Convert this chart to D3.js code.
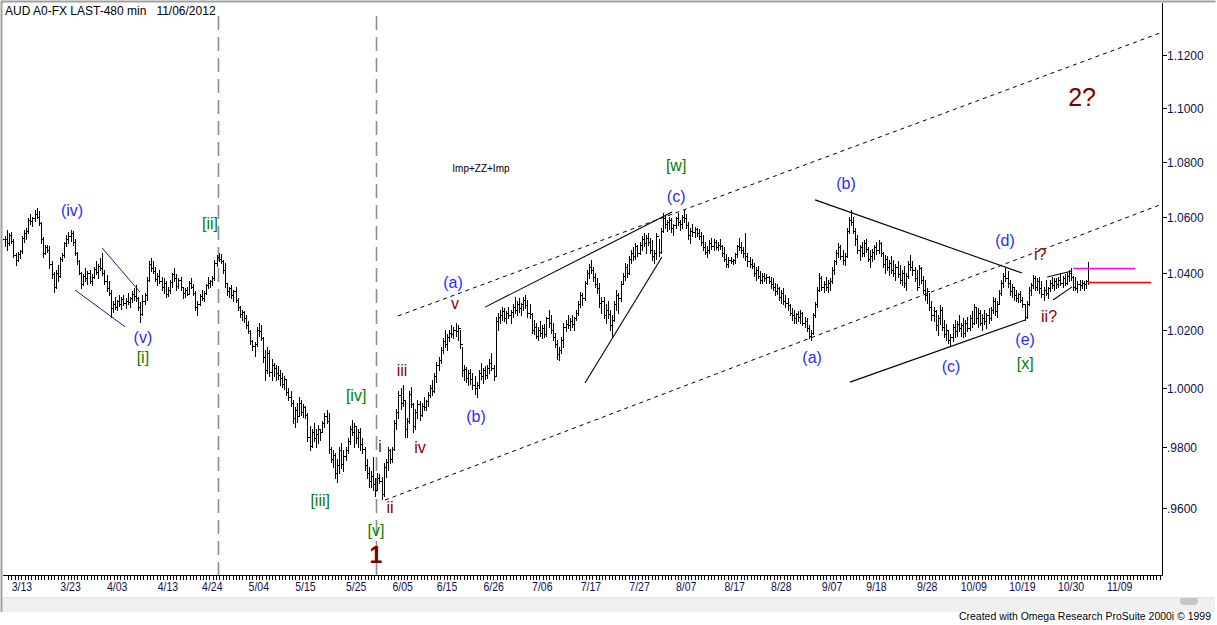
<!DOCTYPE html>
<html><head><meta charset="utf-8">
<script src="https://cdn.jsdelivr.net/npm/d3@7"></script>
<style>html,body{margin:0;padding:0;background:#fff;overflow:hidden}svg{display:block}</style>
</head><body>
<svg id="c" width="1217" height="625"></svg>
<script>
// ---- DATA (prices in 1/10000) ----
const highs = [
10530,10552,10540,10545,10520,10470,10475,10482,10530,10552,
10560,10595,10610,10600,10625,10631,10620,10580,10527,10498,
10500,10495,10440,10403,10410,10427,10455,10470,10510,10534,
10545,10552,10548,10520,10475,10445,10403,10395,10417,10405,
10410,10395,10420,10440,10430,10452,10470,10410,10392,10370,
10339,10300,10314,10305,10320,10315,10321,10310,10330,10315,
10335,10345,10357,10315,10297,10321,10330,10385,10440,10452,
10440,10420,10400,10410,10385,10381,10370,10350,10375,10400,
10417,10395,10380,10385,10350,10345,10350,10370,10381,10360,
10335,10300,10325,10339,10335,10360,10385,10375,10390,10445,
10462,10470,10465,10445,10434,10365,10350,10357,10340,10350,
10310,10283,10270,10266,10250,10230,10200,10165,10158,10210,
10223,10215,10175,10130,10141,10130,10100,10084,10080,10075,
10061,10050,10040,10027,10000,9990,9959,9935,9950,9969,
9960,9945,9940,9915,9870,9860,9882,9860,9875,9858,
9890,9915,9925,9915,9801,9790,9781,9760,9800,9815,
9790,9801,9830,9870,9892,9880,9868,9860,9865,9830,
9801,9760,9735,9720,9768,9700,9715,9712,9702,9748,
9760,9801,9795,9801,9892,9930,9990,9999,10010,9960,
9900,9990,10003,9949,9930,9959,9955,9950,9969,9960,
9985,10010,10027,10050,10090,10106,10141,10170,10199,10185,
10200,10215,10210,10225,10215,10199,10141,10080,10072,10060,
10065,10051,10040,10020,10060,10084,10070,10075,10080,10100,
10120,10080,10245,10260,10269,10280,10275,10265,10280,10270,
10290,10314,10300,10310,10295,10315,10321,10305,10290,10260,
10234,10225,10210,10230,10215,10220,10245,10269,10250,10223,
10190,10165,10140,10175,10223,10235,10252,10240,10250,10245,
10270,10300,10332,10330,10370,10410,10430,10445,10420,10399,
10380,10364,10315,10314,10290,10300,10269,10250,10300,10339,
10330,10370,10400,10434,10430,10460,10480,10490,10505,10500,
10510,10530,10541,10535,10540,10525,10516,10480,10540,10520,
10560,10613,10605,10590,10599,10595,10575,10600,10612,10590,
10605,10624,10610,10581,10560,10575,10563,10560,10555,10545,
10534,10510,10495,10515,10523,10520,10515,10510,10520,10500,
10491,10465,10455,10456,10450,10470,10500,10523,10510,10490,
10541,10470,10456,10450,10434,10420,10425,10405,10400,10399,
10395,10390,10385,10380,10365,10360,10350,10340,10345,10320,
10310,10290,10275,10270,10260,10265,10269,10262,10245,10240,
10215,10200,10260,10297,10350,10399,10390,10370,10385,10375,
10380,10420,10445,10480,10505,10500,10480,10470,10560,10600,
10624,10600,10560,10534,10500,10510,10516,10520,10490,10480,
10485,10498,10510,10516,10510,10475,10463,10460,10445,10460,
10445,10430,10440,10427,10410,10425,10400,10440,10463,10440,
10420,10410,10427,10420,10390,10374,10345,10330,10300,10280,
10269,10250,10287,10280,10234,10220,10199,10185,10220,10234,
10230,10252,10225,10240,10234,10245,10250,10265,10290,10280,
10275,10270,10255,10269,10260,10275,10280,10314,10310,10300,
10340,10374,10400,10417,10405,10374,10360,10345,10339,10330,
10335,10315,10290,10300,10350,10365,10392,10388,10380,10385,
10370,10350,10374,10350,10375,10385,10380,10380,10385,10399,
10390,10395,10400,10410,10417,10390,10385,10370,10374,10374,
10370,10375,10438];
const lows = [
10495,10481,10500,10505,10455,10427,10440,10452,10470,10510,
10520,10540,10575,10568,10585,10595,10570,10505,10456,10465,
10474,10417,10380,10332,10345,10370,10385,10440,10455,10495,
10505,10512,10500,10463,10430,10395,10346,10355,10370,10360,
10365,10357,10380,10395,10381,10410,10392,10360,10335,10321,
10245,10262,10272,10270,10282,10273,10285,10275,10290,10280,
10297,10305,10300,10268,10227,10250,10290,10304,10370,10405,
10399,10370,10357,10365,10340,10330,10314,10318,10330,10350,
10370,10339,10345,10340,10311,10315,10320,10325,10345,10320,
10270,10252,10285,10304,10300,10325,10345,10350,10355,10374,
10425,10440,10434,10400,10350,10320,10314,10310,10300,10297,
10270,10245,10235,10227,10205,10189,10150,10130,10108,10145,
10180,10165,10090,10027,10050,10040,10027,10040,10027,10030,
10010,10003,9995,9975,9959,9940,9880,9868,9885,9905,
9910,9902,9900,9820,9791,9800,9820,9801,9815,9825,
9850,9868,9880,9781,9750,9735,9700,9685,9715,9730,
9720,9758,9780,9810,9840,9801,9815,9800,9791,9780,
9725,9700,9668,9670,9660,9638,9660,9682,9630,9640,
9702,9725,9748,9750,9790,9860,9900,9930,9940,9835,
9835,9880,9935,9851,9860,9900,9892,9905,9925,9925,
9940,9969,9975,9985,10020,10060,10087,10120,10140,10130,
10160,10175,10170,10180,10165,10138,10040,10027,10020,10010,
10015,9995,9980,9969,10000,10030,10017,10030,10035,10050,
10060,10027,10040,10200,10225,10235,10230,10223,10240,10225,
10245,10260,10250,10262,10250,10270,10275,10245,10240,10189,
10185,10170,10165,10180,10170,10175,10180,10210,10190,10165,
10140,10100,10096,10120,10141,10195,10205,10199,10210,10200,
10234,10250,10280,10285,10305,10360,10380,10400,10370,10350,
10330,10280,10260,10240,10223,10240,10200,10175,10230,10270,
10259,10300,10364,10375,10385,10395,10434,10445,10450,10460,
10465,10480,10495,10470,10500,10470,10445,10434,10450,10460,
10470,10545,10560,10550,10555,10545,10534,10560,10570,10552,
10560,10580,10560,10520,10505,10530,10527,10530,10520,10500,
10480,10465,10456,10470,10485,10481,10485,10481,10485,10460,
10440,10420,10422,10434,10430,10435,10455,10480,10470,10455,
10445,10425,10420,10415,10390,10375,10380,10364,10365,10370,
10364,10365,10345,10340,10321,10325,10305,10295,10290,10280,
10270,10250,10235,10223,10225,10230,10225,10215,10210,10195,
10170,10165,10185,10245,10280,10335,10340,10332,10340,10332,
10340,10364,10395,10430,10455,10450,10430,10427,10455,10540,
10570,10540,10500,10470,10445,10460,10460,10475,10440,10420,
10440,10450,10465,10470,10460,10420,10400,10410,10392,10400,
10390,10374,10385,10365,10357,10350,10340,10380,10410,10392,
10370,10339,10355,10365,10330,10304,10295,10270,10234,10230,
10200,10182,10220,10199,10175,10165,10155,10148,10160,10175,
10180,10195,10180,10175,10180,10195,10200,10210,10220,10225,
10210,10215,10199,10220,10205,10225,10235,10260,10250,10245,
10290,10320,10350,10370,10350,10320,10314,10305,10300,10297,
10297,10280,10234,10240,10285,10320,10345,10340,10339,10330,
10315,10304,10320,10310,10335,10345,10339,10345,10350,10355,
10350,10355,10360,10370,10375,10340,10339,10332,10340,10345,
10339,10345,10360];
const closes = [
10520,10505,10535,10512,10462,10445,10468,10476,10522,10540,
10548,10590,10585,10596,10610,10600,10578,10520,10470,10490,
10482,10430,10395,10350,10400,10388,10450,10462,10505,10520,
10530,10540,10510,10470,10440,10400,10360,10390,10380,10398,
10372,10385,10412,10402,10425,10418,10400,10372,10345,10330,
10275,10290,10280,10300,10290,10308,10295,10302,10296,10310,
10325,10318,10310,10280,10255,10300,10322,10375,10430,10415,
10405,10378,10390,10372,10350,10365,10325,10340,10368,10395,
10380,10352,10375,10348,10330,10338,10325,10365,10350,10328,
10280,10290,10318,10312,10330,10355,10362,10370,10380,10435,
10455,10448,10440,10410,10362,10335,10345,10320,10335,10305,
10280,10255,10262,10240,10215,10195,10160,10145,10150,10200,
10195,10172,10105,10060,10120,10055,10080,10070,10050,10045,
10035,10015,10030,9985,9970,9950,9900,9925,9905,9950,
9920,9935,9910,9835,9805,9850,9830,9845,9860,9850,
9880,9905,9890,9795,9760,9775,9715,9740,9790,9745,
9770,9790,9820,9860,9850,9870,9830,9850,9810,9795,
9740,9715,9690,9705,9680,9660,9700,9690,9645,9735,
9750,9790,9760,9795,9880,9920,9975,9950,9960,9860,
9890,9980,9945,9870,9920,9945,9910,9940,9935,9955,
9975,10000,9990,10040,10080,10095,10130,10160,10150,10175,
10190,10185,10200,10195,10205,10150,10060,10065,10035,10050,
10030,10010,10000,10010,10050,10040,10060,10045,10070,10085,
10070,10040,10230,10245,10250,10265,10240,10258,10250,10262,
10280,10270,10290,10275,10290,10305,10285,10260,10255,10200,
10210,10180,10200,10190,10205,10185,10240,10225,10200,10175,
10150,10115,10130,10165,10210,10220,10215,10230,10220,10240,
10260,10290,10320,10310,10365,10400,10420,10410,10385,10360,
10345,10295,10300,10250,10270,10255,10215,10235,10290,10320,
10310,10360,10390,10420,10400,10450,10470,10460,10495,10470,
10500,10520,10505,10525,10510,10480,10460,10470,10530,10475,
10550,10595,10575,10580,10590,10560,10570,10595,10580,10575,
10600,10595,10570,10535,10550,10545,10555,10540,10530,10510,
10490,10475,10480,10505,10495,10510,10490,10500,10495,10470,
10450,10430,10445,10440,10445,10465,10495,10490,10480,10470,
10460,10440,10430,10425,10400,10410,10390,10375,10390,10380,
10385,10372,10360,10350,10335,10345,10315,10330,10300,10295,
10285,10260,10250,10240,10255,10245,10260,10225,10230,10205,
10180,10190,10250,10290,10340,10380,10350,10360,10350,10365,
10370,10410,10440,10470,10490,10460,10445,10460,10550,10590,
10580,10550,10520,10480,10490,10470,10505,10485,10450,10460,
10475,10490,10480,10505,10470,10430,10450,10420,10435,10410,
10400,10420,10395,10375,10400,10365,10390,10430,10420,10410,
10380,10350,10415,10375,10340,10320,10335,10280,10250,10265,
10215,10240,10270,10210,10185,10200,10165,10175,10210,10195,
10220,10205,10215,10190,10225,10205,10240,10225,10280,10240,
10260,10225,10240,10230,10250,10240,10270,10300,10265,10290,
10330,10365,10390,10380,10365,10335,10350,10320,10310,10325,
10305,10290,10245,10290,10340,10355,10380,10350,10370,10345,
10325,10340,10330,10345,10365,10355,10370,10360,10375,10365,
10380,10365,10390,10400,10385,10350,10345,10360,10355,10365,
10360,10370,10367];

const yTickValues = [1.12, 1.10, 1.08, 1.06, 1.04, 1.02, 1.00, 0.98, 0.96];
const yTickLabels = ["1.1200","1.1000","1.0800","1.0600","1.0400","1.0200","1.0000",".9800",".9600"];
const xTickLabels = ["3/13","3/23","4/03","4/13","4/24","5/04","5/15","5/25","6/05","6/15","6/26","7/06","7/17","7/27","8/07","8/17","8/28","9/07","9/18","9/28","10/09","10/19","10/30","11/09"];
const xTickBars = [8,31,53,77,98,120,142,166,188,209,231,254,277,300,322,345,367,391,412,436,458,481,504,527];
const eventBars = [100.7, 175.4];

// trendlines: [[bar, price],[bar, price]]
const diagonalLines = [[[45.9,1.0488],[63.8,1.0332]], [[33.1,1.0339],[56.7,1.0211]]];
const channelLines = [[[185.8,1.0248],[546.1,1.1284]], [[179.7,0.9626],[546.1,1.0643]]];
const solidLines = [
  [[227,1.0279],[315.4,1.0617]], [[274.2,1.0017],[310.6,1.0456]],
  [[383,1.0661],[480.8,1.0399]], [[399.5,1.0020],[482.3,1.0234]],
  [[492.7,1.0385],[504.5,1.0406]], [[495.5,1.0304],[504.5,1.0350]]
];
const levelLines = [{from:505, to:534.3, price:1.0417, kind:"magenta"}, {from:512, to:541.8, price:1.0367, kind:"red"}];

// wave labels: text, bar, price, degree
const waveLabels = [
  ["(iv)",31.7,1.0624,"minute"], ["(v)",65.2,1.0175,"minute"], ["[i]",65.2,1.0106,"minor"],
  ["[ii]",96.9,1.0574,"minor"], ["[iii]",149,0.9626,"minor"], ["[iv]",166,0.9976,"minor"],
  ["[v]",175.4,0.9528,"minor"], ["1",175.4,0.9448,"primary"],
  ["i",177.3,0.9804,"minuette"], ["ii",182,0.9600,"minuette"], ["iii",187.7,1.0061,"minuette"],
  ["iv",196.2,0.9798,"minuette"], ["v",212.8,1.0293,"minuette"],
  ["(a)",211.8,1.0367,"minute"], ["(b)",222.7,0.9902,"minute"],
  ["[w]",317.3,1.0788,"minor"], ["(c)",317.3,1.0675,"minute"], ["Imp+ZZ+Imp",225,1.0774,"note"],
  ["(a)",381.6,1.0103,"minute"], ["(b)",397.6,1.0722,"minute"], ["(c)",447.3,1.0075,"minute"],
  ["(d)",472.8,1.0516,"minute"], ["(e)",482.3,1.0165,"minute"], ["[x]",482.3,1.0085,"minor"],
  ["i?",489.4,1.0463,"minuette"], ["ii?",493.6,1.0248,"minuette"], ["2?",509.2,1.1041,"primary2"]
];

// ---- STYLES ----
const labelStyle = {
  minute:{fill:"#2b2bff", size:16, weight:"normal"},
  minor:{fill:"#008000", size:16, weight:"normal"},
  minuette:{fill:"#8b0000", size:16, weight:"normal"},
  primary:{fill:"#7a0000", size:23, weight:"bold"},
  primary2:{fill:"#7a0000", size:25, weight:"normal"},
  note:{fill:"#000", size:10, weight:"normal"}
};
const levelColor = {magenta:"#ff00ff", red:"#ff0000"};

const svg = d3.select("#c");
const W = 1217, H = 625;
const x = d3.scaleLinear().domain([0, 547]).range([5, 1162]);
const y = d3.scaleLog().domain([0.93836, 1.13996]).range([575, 3]);

svg.append("rect").attr("width", W).attr("height", H).attr("fill", "#fff");
// scroll band
svg.append("rect").attr("x", 2).attr("y", 597).attr("width", 1213).attr("height", 15).attr("fill", "#f0f0f0");
svg.append("rect").attr("x", 1180).attr("y", 597).attr("width", 18).attr("height", 8).attr("rx", 4).attr("fill", "#c6c6c6");
// frame
svg.append("path").attr("d", "M1.5,612V1.5H1215.5").attr("fill", "none").attr("stroke", "#a0a0a0").attr("stroke-width", 2);
svg.append("line").attr("x1", 2).attr("x2", 1215).attr("y1", 597.5).attr("y2", 597.5).attr("stroke", "#e2e2e2");

// title
svg.append("text").attr("x", 5).attr("y", 15).attr("font-family", "'Liberation Sans', Arial, sans-serif")
  .attr("font-size", 12).attr("fill", "#000").attr("xml:space", "preserve").text("AUD A0-FX LAST-480 min   11/06/2012");

// event lines
svg.append("g").selectAll("line").data(eventBars).join("line")
  .attr("x1", d => Math.round(x(d)) + 0.5).attr("x2", d => Math.round(x(d)) + 0.5)
  .attr("y1", 16).attr("y2", 575)
  .attr("stroke", "#8c8c8c").attr("stroke-width", 1.6).attr("stroke-dasharray", "14,7");

// axes lines
svg.append("line").attr("x1", 3).attr("x2", 1162.5).attr("y1", 575.5).attr("y2", 575.5).attr("stroke", "#000");
svg.append("line").attr("x1", 1162.5).attr("x2", 1162.5).attr("y1", 3).attr("y2", 576).attr("stroke", "#000");

// y axis
const yAxis = svg.append("g").attr("font-family", "'Liberation Sans', Arial, sans-serif").attr("font-size", 12);
yTickValues.forEach((v, k) => {
  const py = Math.round(y(v)) + 0.5;
  yAxis.append("line").attr("x1", 1162).attr("x2", 1167).attr("y1", py).attr("y2", py).attr("stroke", "#000");
  yAxis.append("text").attr("x", 1167).attr("y", py + 4.5).attr("fill", "#10104a").text(yTickLabels[k]);
});

// x axis minor ticks
const xt = svg.append("g");
d3.range(1.5, 547, 1.56).forEach(b => {
  const px = Math.round(x(b)) + 0.5;
  xt.append("line").attr("x1", px).attr("x2", px).attr("y1", 576).attr("y2", 580).attr("stroke", "#000");
});
xTickBars.forEach((b, k) => {
  svg.append("text").attr("transform", `translate(${x(b)},591) scale(0.84,1)`).attr("text-anchor", "middle")
    .attr("font-family", "'Liberation Sans', Arial, sans-serif")
    .attr("font-size", 12.5).attr("fill", "#10104a").text(xTickLabels[k]);
});

// OHLC bars
const bars = highs.map((h, i) => ({i, h: h / 1e4, l: lows[i] / 1e4, c: closes[i] / 1e4, o: (i > 0 ? closes[i - 1] : closes[0]) / 1e4}));
const path = bars.map(d => {
  const c = Math.round(x(d.i));
  const yh = Math.round(y(d.h)), yl = Math.round(y(d.l));
  const yo = Math.round(y(d.o)), yc = Math.round(y(d.c));
  return `M${c},${yh}h1v${yl - yh + 1}h-1Z M${c - 2},${yo}h2v1h-2Z M${c + 1},${yc}h2v1h-2Z`;
}).join(" ");
svg.append("path").attr("d", path).attr("fill", "#000").attr("shape-rendering", "crispEdges");

// trend lines
const seg = (g, data) => g.selectAll("line").data(data).join("line")
  .attr("x1", d => x(d[0][0])).attr("y1", d => y(d[0][1]))
  .attr("x2", d => x(d[1][0])).attr("y2", d => y(d[1][1]));
seg(svg.append("g"), diagonalLines).attr("stroke", "#1a1a90").attr("stroke-width", 1);
seg(svg.append("g"), channelLines).attr("stroke", "#000").attr("stroke-width", 1).attr("stroke-dasharray", "4,4");
seg(svg.append("g"), solidLines).attr("stroke", "#000").attr("stroke-width", 1.1);
svg.append("g").selectAll("line").data(levelLines).join("line")
  .attr("x1", d => x(d.from)).attr("x2", d => x(d.to))
  .attr("y1", d => Math.round(y(d.price)) + 0.5).attr("y2", d => Math.round(y(d.price)) + 0.5)
  .attr("stroke", d => levelColor[d.kind]).attr("stroke-width", 1.5);

// wave labels
svg.append("g").selectAll("text").data(waveLabels).join("text")
  .attr("x", d => x(d[1])).attr("y", d => y(d[2]))
  .attr("text-anchor", "middle").attr("dominant-baseline", "central")
  .attr("font-family", "'Liberation Sans', Arial, sans-serif")
  .attr("font-size", d => labelStyle[d[3]].size).attr("font-weight", d => labelStyle[d[3]].weight)
  .attr("fill", d => labelStyle[d[3]].fill).text(d => d[0]);

// footer
svg.append("text").attr("x", 1211).attr("y", 620).attr("text-anchor", "end")
  .attr("font-family", "'Liberation Sans', Arial, sans-serif")
  .attr("font-size", 10.5).attr("textLength", 252).attr("lengthAdjust", "spacingAndGlyphs")
  .attr("fill", "#000").text("Created with Omega Research ProSuite 2000i \u00A9 1999");
</script>
</body></html>
